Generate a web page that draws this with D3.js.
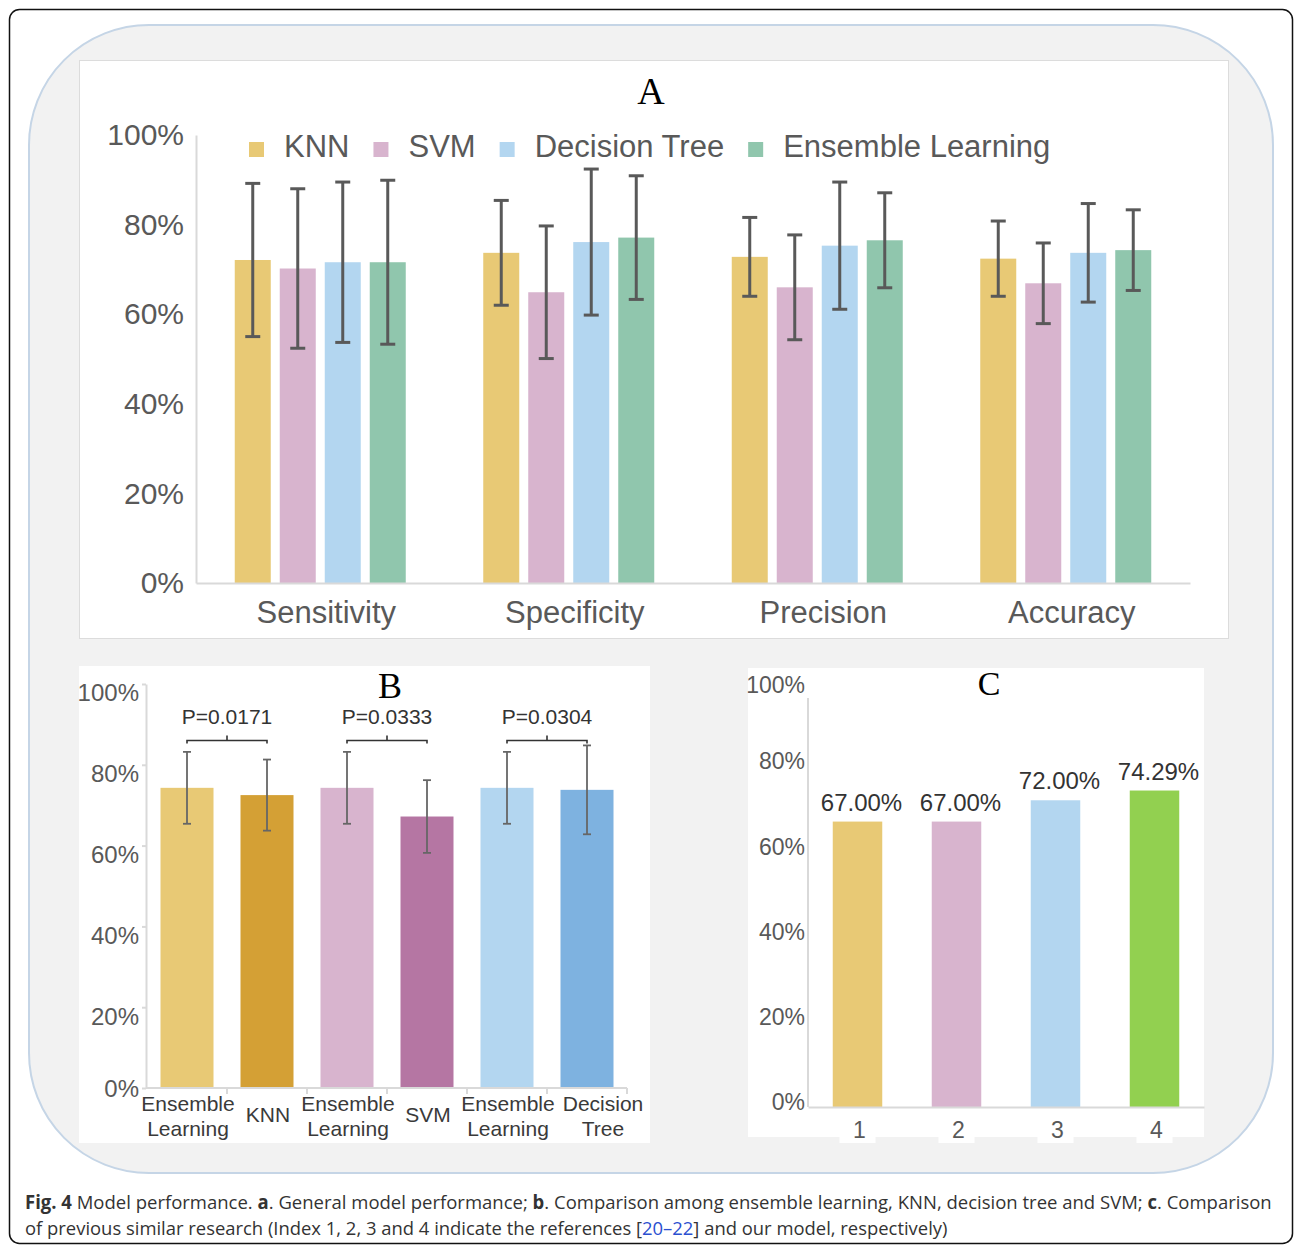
<!DOCTYPE html>
<html lang="en">
<head>
  <meta charset="UTF-8" />
  <title>Model performance</title>
  <script src="https://d3js.org/d3.v7.min.js"></script>
  <style>
    body { margin: 0; background: #fff; }
    svg { display: block; font-family: "Liberation Sans", Arial, sans-serif; }
    .axis path, .axis line { stroke: #d9d9d9; stroke-width: 2px; }
    .axis text { fill: #595959; font-family: "Liberation Sans", Arial, sans-serif; }
    .title { font-family: "Liberation Serif", "Times New Roman", serif; fill: #000; }
    .caption { font-family: "Open Sans", "Noto Sans", sans-serif; font-size: 19px; fill: #333; }
  </style>
</head>
<body>

<svg width="1295" height="1246"></svg>

<script>
  // ---- Panel A data (mean, +/- error, in %) ----
  const metrics = ["Sensitivity", "Specificity", "Precision", "Accuracy"];
  const models = ["KNN", "SVM", "Decision Tree", "Ensemble Learning"];
  const knnMean = [72.1, 73.7, 72.8, 72.4];
  const knnErr  = [17.1, 11.7, 8.8, 8.4];
  const svmMean = [70.2, 64.9, 66.0, 66.9];
  const svmErr  = [17.8, 14.8, 11.7, 9.0];
  const dtMean  = [71.6, 76.1, 75.3, 73.7];
  const dtErr   = [17.9, 16.3, 14.2, 11.0];
  const elMean  = [71.6, 77.1, 76.5, 74.3];
  const elErr   = [18.3, 13.8, 10.6, 9.0];
  const modelColors = ["#E8C975", "#D8B4CE", "#B3D6F0", "#90C6AD"];

  // ---- Panel B data ----
  const bLabels = [["Ensemble", "Learning"], ["KNN"], ["Ensemble", "Learning"], ["SVM"], ["Ensemble", "Learning"], ["Decision", "Tree"]];
  const bMean = [74.3, 72.5, 74.3, 67.2, 74.3, 73.8];
  const bErr  = [8.9, 8.8, 8.9, 9.0, 8.9, 11.0];
  const bColors = ["#E8C975", "#D4A035", "#D8B4CE", "#B576A3", "#B3D6F0", "#7EB2E0"];
  const pTexts = ["P=0.0171", "P=0.0333", "P=0.0304"];
  const pPairs = [[0, 1], [2, 3], [4, 5]];

  // ---- Panel C data ----
  const cLabels = ["1", "2", "3", "4"];
  const cValues = [67.00, 67.00, 72.00, 74.29];
  const cColors = ["#E8C975", "#D8B4CE", "#B3D6F0", "#92D050"];

  const yTicks = [0, 20, 40, 60, 80, 100];
  const pct = d => d + "%";

  const svg = d3.select("svg");

  // frame + grey rounded panel
  svg.append("rect").attr("x", 9.5).attr("y", 9.5).attr("width", 1283).attr("height", 1234)
    .attr("rx", 10).attr("fill", "#fff").attr("stroke", "#111").attr("stroke-width", 1.5);
  svg.append("rect").attr("x", 29).attr("y", 25).attr("width", 1244).attr("height", 1148)
    .attr("rx", 120).attr("fill", "#f2f2f2").attr("stroke", "#c5d5e6").attr("stroke-width", 2);

  // ================= Panel A =================
  svg.append("rect").attr("x", 79.5).attr("y", 60.5).attr("width", 1149).attr("height", 578)
    .attr("fill", "#fff").attr("stroke", "#dcdcdc");

  const yA = d3.scaleLinear().domain([0, 100]).range([583, 135]);
  const xA = d3.scaleBand().domain(metrics).range([196, 1190]);
  const xAin = d3.scaleBand().domain(models).range([0, 171]).paddingInner(0.2);
  const offA = (xA.bandwidth() - 171) / 2;

  const seriesA = [
    { model: models[0], mean: knnMean, err: knnErr },
    { model: models[1], mean: svmMean, err: svmErr },
    { model: models[2], mean: dtMean, err: dtErr },
    { model: models[3], mean: elMean, err: elErr }
  ];
  const colorA = d3.scaleOrdinal().domain(models).range(modelColors);

  const barsA = [];
  seriesA.forEach(s => metrics.forEach((m, i) => barsA.push({ metric: m, model: s.model, v: s.mean[i], e: s.err[i] })));
  const bx = d => xA(d.metric) + offA + xAin(d.model);

  const gA = svg.append("g");
  gA.selectAll("rect.bar").data(barsA).enter().append("rect")
    .attr("x", bx).attr("y", d => yA(d.v))
    .attr("width", xAin.bandwidth()).attr("height", d => yA(0) - yA(d.v))
    .attr("fill", d => colorA(d.model));

  gA.append("g").attr("class", "axis").attr("transform", "translate(196,0)")
    .call(d3.axisLeft(yA).tickValues(yTicks).tickFormat(pct).tickSize(0).tickPadding(12))
    .call(g => g.selectAll("text").style("font-size", "30px"));
  gA.append("g").attr("class", "axis").attr("transform", "translate(0,583)")
    .call(d3.axisBottom(xA).tickSize(0).tickPadding(18))
    .call(g => g.selectAll("text").style("font-size", "31px").attr("dx", 6));

  // error bars
  const errA = gA.selectAll("g.err").data(barsA).enter().append("g")
    .attr("stroke", "#595959").attr("stroke-width", 3);
  const cxA = d => bx(d) + xAin.bandwidth() / 2;
  errA.append("line").attr("x1", cxA).attr("x2", cxA).attr("y1", d => yA(d.v + d.e)).attr("y2", d => yA(d.v - d.e));
  errA.append("line").attr("x1", d => cxA(d) - 7.5).attr("x2", d => cxA(d) + 7.5).attr("y1", d => yA(d.v + d.e)).attr("y2", d => yA(d.v + d.e));
  errA.append("line").attr("x1", d => cxA(d) - 7.5).attr("x2", d => cxA(d) + 7.5).attr("y1", d => yA(d.v - d.e)).attr("y2", d => yA(d.v - d.e));

  // legend
  const legend = svg.append("g").attr("transform", "translate(249,0)");
  let lx = 0;
  models.forEach(m => {
    legend.append("rect").attr("x", lx).attr("y", 142).attr("width", 15).attr("height", 15).attr("fill", colorA(m));
    const t = legend.append("text").attr("x", lx + 35).attr("y", 157)
      .attr("fill", "#595959").style("font-size", "31px").text(m);
    lx += 35 + t.node().getComputedTextLength() + 24;
  });

  svg.append("text").attr("class", "title").attr("x", 651).attr("y", 104)
    .attr("text-anchor", "middle").style("font-size", "38px").text("A");

  // ================= Panel B =================
  svg.append("rect").attr("x", 79).attr("y", 666).attr("width", 571).attr("height", 477).attr("fill", "#fff");

  const idxB = bMean.map((d, i) => i);
  const yB = d3.scaleLinear().domain([0, 100]).range([1088, 684]);
  const xB = d3.scaleBand().domain(idxB).range([147, 627]).paddingInner(0.3375).paddingOuter(0.3375 / 2);

  const gB = svg.append("g");
  gB.selectAll("rect").data(idxB).enter().append("rect")
    .attr("x", i => xB(i)).attr("y", i => yB(bMean[i]))
    .attr("width", xB.bandwidth()).attr("height", i => yB(0) - yB(bMean[i]))
    .attr("fill", i => bColors[i]);

  gB.append("g").attr("class", "axis").attr("transform", "translate(146,0)")
    .call(d3.axisLeft(yB).tickValues(yTicks).tickFormat(pct).tickSizeInner(4).tickSizeOuter(0).tickPadding(3))
    .call(g => g.selectAll("text").style("font-size", "24px").attr("dy", d => d === 0 ? "0.35em" : "0.7em"));

  // x axis line with separators between categories
  const sepB = idxB.map(i => xB(i) - xB.step() * xB.paddingInner() / 2).concat([xB.range()[1]]);
  gB.append("line").attr("x1", 146).attr("x2", xB.range()[1]).attr("y1", yB(0)).attr("y2", yB(0))
    .attr("stroke", "#d9d9d9").attr("stroke-width", 2);
  gB.selectAll("line.sep").data(sepB.slice(1)).enter().append("line")
    .attr("x1", d => d).attr("x2", d => d).attr("y1", yB(0)).attr("y2", yB(0) + 6)
    .attr("stroke", "#d9d9d9").attr("stroke-width", 2);

  // category labels (the last one is nudged right, as in the original figure)
  idxB.forEach(i => {
    const cx = xB(i) + xB.bandwidth() / 2 + (i === idxB.length - 1 ? 16 : 1);
    const lines = bLabels[i];
    const t = gB.append("text").attr("text-anchor", "middle").attr("fill", "#3a3a3a").style("font-size", "21px");
    if (lines.length === 1) {
      t.attr("x", cx).attr("y", 1122).text(lines[0]);
    } else {
      lines.forEach((l, k) => t.append("tspan").attr("x", cx).attr("y", 1111 + k * 25).text(l));
    }
  });

  // error bars
  const cxB = i => xB(i) + xB.bandwidth() / 2;
  const errB = gB.selectAll("g.err").data(idxB).enter().append("g")
    .attr("stroke", "#666").attr("stroke-width", 1.8);
  errB.append("line").attr("x1", cxB).attr("x2", cxB).attr("y1", i => yB(bMean[i] + bErr[i])).attr("y2", i => yB(bMean[i] - bErr[i]));
  errB.append("line").attr("x1", i => cxB(i) - 4).attr("x2", i => cxB(i) + 4).attr("y1", i => yB(bMean[i] + bErr[i])).attr("y2", i => yB(bMean[i] + bErr[i]));
  errB.append("line").attr("x1", i => cxB(i) - 4).attr("x2", i => cxB(i) + 4).attr("y1", i => yB(bMean[i] - bErr[i])).attr("y2", i => yB(bMean[i] - bErr[i]));

  // significance brackets
  pPairs.forEach((p, k) => {
    const x1 = cxB(p[0]), x2 = cxB(p[1]), yb = yB(86), xm = (x1 + x2) / 2;
    gB.append("path")
      .attr("d", `M${x1},${yb + 3}V${yb}H${x2}V${yb + 3}M${xm},${yb}V${yb - 5}`)
      .attr("fill", "none").attr("stroke", "#333").attr("stroke-width", 1.6);
    gB.append("text").attr("x", xm).attr("y", yB(90))
      .attr("text-anchor", "middle").attr("fill", "#333").style("font-size", "21px").text(pTexts[k]);
  });

  svg.append("text").attr("class", "title").attr("x", 390).attr("y", 698)
    .attr("text-anchor", "middle").style("font-size", "36px").text("B");

  // ================= Panel C =================
  svg.append("rect").attr("x", 748).attr("y", 668).attr("width", 456).attr("height", 469).attr("fill", "#fff");

  const yC = d3.scaleLinear().domain([0, 100]).range([1107, 681]);
  const xC = d3.scaleBand().domain(cLabels).range([808, 1204]).paddingInner(0.5).paddingOuter(0.25);

  const gC = svg.append("g");
  // white patches under the index labels
  gC.selectAll("rect.patch").data(cLabels).enter().append("rect")
    .attr("x", d => xC(d) + xC.bandwidth() / 2 - 18).attr("y", 1120)
    .attr("width", 36).attr("height", 23).attr("fill", "#fff");

  gC.selectAll("rect.bar").data(cLabels).enter().append("rect")
    .attr("x", d => xC(d)).attr("y", (d, i) => yC(cValues[i]))
    .attr("width", xC.bandwidth()).attr("height", (d, i) => yC(0) - yC(cValues[i]))
    .attr("fill", (d, i) => cColors[i]);

  gC.append("g").attr("class", "axis").attr("transform", "translate(808,0)")
    .call(d3.axisLeft(yC).tickValues(yTicks).tickFormat(pct).tickSize(0).tickPadding(3))
    .call(g => g.select(".domain").attr("d", `M0,${yC(96)}V${yC(0)}`))
    .call(g => g.selectAll("text").style("font-size", "23px").attr("dy", d => d === 100 ? "0.5em" : "0.12em"));
  gC.append("g").attr("class", "axis").attr("transform", "translate(0,1107)")
    .call(d3.axisBottom(xC).tickSize(0).tickPadding(15))
    .call(g => g.selectAll("text").style("font-size", "23px").attr("fill", "#333").attr("dx", 2));

  gC.selectAll("text.val").data(cLabels).enter().append("text")
    .attr("x", d => xC(d) + xC.bandwidth() / 2 + 4).attr("y", (d, i) => yC(cValues[i]) - 11)
    .attr("text-anchor", "middle").attr("fill", "#333").style("font-size", "24px")
    .text((d, i) => cValues[i].toFixed(2) + "%");

  svg.append("text").attr("class", "title").attr("x", 989).attr("y", 695)
    .attr("text-anchor", "middle").style("font-size", "34px").text("C");

  // ================= Caption =================
  const capLines = [
    { y: 1209, width: 1247, parts: [
      ["Fig. 4", "b"], [" Model performance. ", ""], ["a", "b"], [". General model performance; ", ""],
      ["b", "b"], [". Comparison among ensemble learning, KNN, decision tree and SVM; ", ""],
      ["c", "b"], [". Comparison", ""]] },
    { y: 1235, width: 923, parts: [
      ["of previous similar research (Index 1, 2, 3 and 4 indicate the references [", ""],
      ["20–22", "link"], ["] and our model, respectively)", ""]] }
  ];
  capLines.forEach(line => {
    const t = svg.append("text").attr("class", "caption").attr("x", 0).attr("y", 0);
    line.parts.forEach(p => {
      const s = t.append("tspan").text(p[0]);
      if (p[1] === "b") s.attr("font-weight", "bold");
      if (p[1] === "link") s.attr("fill", "#2b4fd0");
    });
    const k = line.width / t.node().getComputedTextLength();
    t.attr("transform", `translate(25,${line.y}) scale(${k},1)`);
  });
</script>

</body>
</html>
